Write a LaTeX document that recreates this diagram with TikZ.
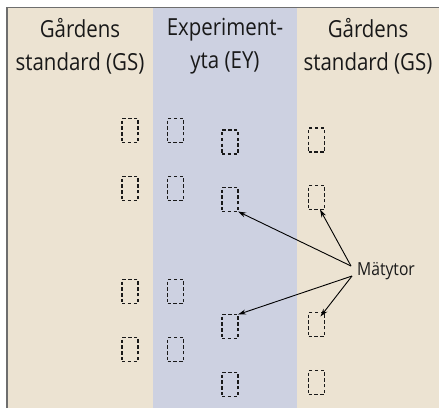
\documentclass[tikz,border=0pt]{standalone}
\usepackage{fontspec}
\setmainfont[FakeStretch=0.87]{Open Sans}
\usetikzlibrary{arrows.meta}
\definecolor{beige}{HTML}{ECE3D2}
\definecolor{bandblue}{HTML}{CDD1E1}
\definecolor{framegray}{HTML}{6E6E6E}
\tikzset{
  plot/.style={draw=black!90, line width=1.4bp, dash pattern=on 3.4bp off 2.4bp, minimum width=16bp, minimum height=24bp, inner sep=0pt, outer sep=0pt},
  head/.style={align=center, font=\fontsize{23.5bp}{33bp}\selectfont, text=black!90},
  arr/.style={-{Stealth[length=8bp,width=5bp]}, line width=0.9bp, black},
}
\begin{document}
\begin{tikzpicture}[x=1bp,y=-1bp]
\useasboundingbox (0,0) rectangle (439,408);
\fill[beige] (7,7.5) rectangle (439,408);
\fill[bandblue] (153,7.5) rectangle (297,408);
\draw[framegray, line width=1.6bp] (7,408) -- (7,7.5) -- (439,7.5);
% headings
\node[head] (h1) at (80,46) {Gårdens\\standard (GS)};
\node[head] (h2) at (225,46) {Experiment-\\yta (EY)};
\node[head] (h3) at (368,46) {Gårdens\\standard (GS)};
% column 1
\node[plot] (a1) at (130,130.5) {};
\node[plot] (a2) at (130,188.5) {};
\node[plot] (a3) at (130,291.5) {};
\node[plot] (a4) at (130,349.5) {};
% column 2
\node[plot] (b1) at (175.5,130.5) {};
\node[plot] (b2) at (175.5,188.5) {};
\node[plot] (b3) at (175.5,291.5) {};
\node[plot] (b4) at (175.5,349.5) {};
% column 3
\node[plot] (c1) at (230,142) {};
\node[plot] (c2) at (230,199.5) {};
\node[plot] (c3) at (230,326.5) {};
\node[plot] (c4) at (230,384.5) {};
% column 4
\node[plot] (d1) at (316.5,140) {};
\node[plot] (d2) at (316.5,197.5) {};
\node[plot] (d3) at (316.5,324.5) {};
\node[plot] (d4) at (316.5,382.5) {};
% label
\node[anchor=west, font=\fontsize{18bp}{20bp}\selectfont, inner sep=0pt, text=black!90] (m) at (357,271) {Mätytor};
\coordinate (mu) at (351,266);
\coordinate (ml) at (352,276);
\draw[arr] (mu) -- (c2.south east);
\draw[arr] (mu) -- ([xshift=3.5bp]d2.south);
\draw[arr] (ml) -- (c3.north east);
\draw[arr] (ml) -- ([xshift=4bp,yshift=-4bp]d3.north);
\end{tikzpicture}
\end{document}
